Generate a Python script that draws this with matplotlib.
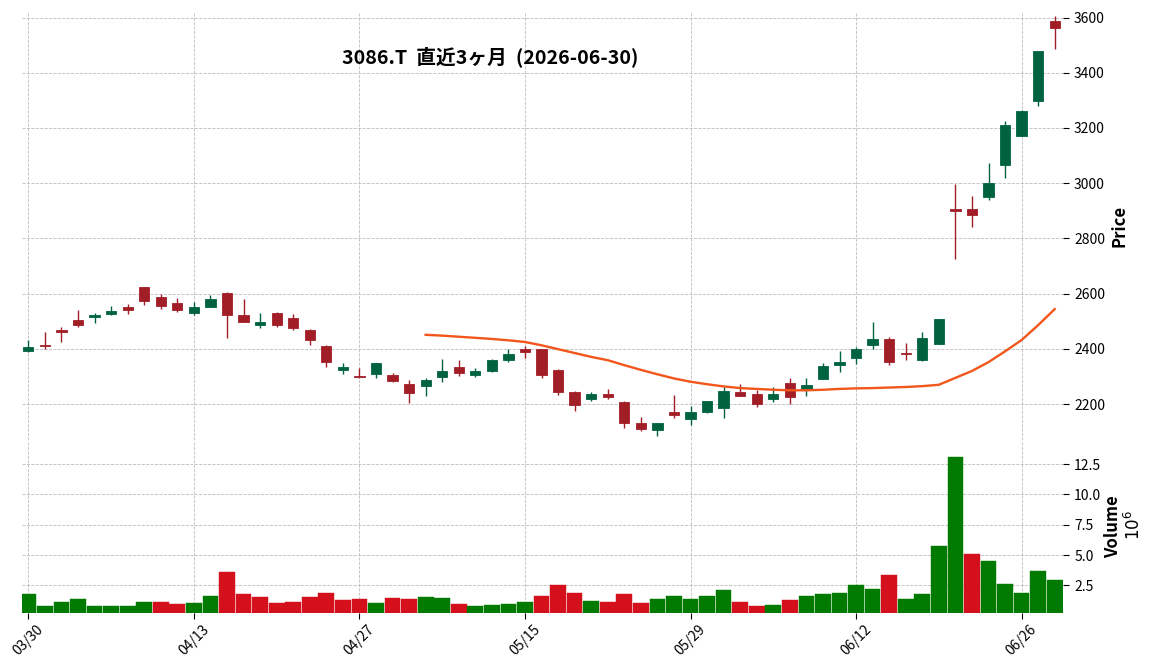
import numpy as np
import pandas as pd
import matplotlib
matplotlib.use('Agg')
import matplotlib.pyplot as plt

plt.rcParams['font.family'] = ['Noto Sans CJK JP', 'DejaVu Sans']

# ---------------- data ----------------
jp_holidays = ['2026-04-29', '2026-05-04', '2026-05-05', '2026-05-06']
dates = pd.bdate_range('2026-03-30', '2026-06-30', freq='C', holidays=jp_holidays)

opens = [2392, 2415, 2467, 2505, 2517, 2527, 2551, 2623, 2587, 2566,
         2531, 2552, 2601, 2523, 2485, 2530, 2512, 2469, 2412, 2324,
         2301, 2310, 2305, 2273, 2267, 2299, 2333, 2305, 2320, 2360,
         2401, 2399, 2323, 2244, 2217, 2237, 2208, 2133, 2106, 2171,
         2145, 2170, 2185, 2244, 2237, 2220, 2276, 2251, 2292, 2342,
         2366, 2413, 2434, 2386, 2360, 2419, 2908, 2906, 2949, 3067,
         3172, 3298, 3586]
highs = [2431, 2462, 2479, 2540, 2531, 2555, 2562, 2625, 2600, 2586,
         2568, 2596, 2607, 2579, 2529, 2533, 2526, 2471, 2414, 2350,
         2329, 2348, 2314, 2286, 2294, 2362, 2358, 2332, 2362, 2398,
         2410, 2401, 2326, 2248, 2243, 2255, 2212, 2154, 2132, 2232,
         2194, 2212, 2262, 2271, 2250, 2261, 2296, 2296, 2350, 2393,
         2407, 2497, 2442, 2422, 2461, 2509, 2998, 2955, 3073, 3224,
         3266, 3477, 3605]
lows = [2389, 2400, 2426, 2481, 2493, 2521, 2525, 2560, 2545, 2535,
        2521, 2550, 2439, 2496, 2475, 2481, 2468, 2415, 2336, 2310,
        2293, 2295, 2279, 2204, 2231, 2281, 2302, 2299, 2318, 2352,
        2368, 2296, 2233, 2175, 2210, 2217, 2114, 2104, 2086, 2150,
        2126, 2168, 2150, 2229, 2189, 2208, 2201, 2229, 2292, 2318,
        2347, 2401, 2342, 2359, 2357, 2417, 2724, 2842, 2940, 3018,
        3172, 3281, 3486]
closes = [2408, 2412, 2460, 2487, 2524, 2537, 2539, 2574, 2556, 2542,
          2551, 2580, 2524, 2499, 2497, 2485, 2474, 2431, 2352, 2333,
          2299, 2348, 2285, 2242, 2287, 2319, 2313, 2319, 2360, 2383,
          2388, 2306, 2245, 2195, 2237, 2227, 2131, 2109, 2130, 2160,
          2173, 2212, 2248, 2231, 2202, 2237, 2224, 2269, 2337, 2352,
          2398, 2437, 2352, 2382, 2441, 2509, 2901, 2885, 3001, 3210,
          3261, 3477, 3562]
volumes_m = [1.76, 0.77, 1.10, 1.35, 0.77, 0.77, 0.77, 1.10, 1.10, 0.94,
             1.02, 1.60, 3.57, 1.76, 1.51, 1.02, 1.10, 1.51, 1.92, 1.27,
             1.35, 1.02, 1.43, 1.35, 1.51, 1.43, 0.94, 0.77, 0.86, 0.94,
             1.10, 1.60, 2.50, 1.92, 1.18, 1.10, 1.76, 1.02, 1.35, 1.60,
             1.35, 1.60, 2.09, 1.10, 0.77, 0.86, 1.27, 1.60, 1.76, 1.84,
             2.50, 2.17, 3.40, 1.35, 1.76, 5.79, 13.10, 5.13, 4.55, 2.66,
             1.92, 3.73, 2.99]
mav_start = 24
mav25 = [2451, 2448, 2444, 2440, 2436, 2431, 2425, 2413, 2399, 2385,
         2371, 2359, 2341, 2324, 2308, 2293, 2281, 2272, 2264, 2258,
         2255, 2252, 2250, 2250, 2252, 2255, 2257, 2258, 2260, 2262,
         2265, 2270, 2295, 2320, 2352, 2391, 2432, 2486, 2544]
price_ticks = [2200, 2400, 2600, 2800, 3000, 3200, 3400, 3600]
volume_ticks = [2.5, 5.0, 7.5, 10.0, 12.5]
tick_every = 10
title = '3086.T  直近3ヶ月  (2026-06-30)'

# ---------------- style ----------------
UP_C, DN_C = '#00633f', '#a21e27'
VUP_C, VDN_C = '#007a00', '#d3101c'
MA_C = '#f2561a'
GRID = dict(linestyle='--', color='#bdbdbd', linewidth=0.6)

n = len(closes)
x = np.arange(n)
o = np.array(opens, float); h = np.array(highs, float)
l = np.array(lows, float); c = np.array(closes, float)
up = c >= o
ccol = np.where(up, UP_C, DN_C)
prev = np.concatenate([[o[0]], c[:-1]])
vcol = np.where(c >= prev, VUP_C, VDN_C)

W, H = 1156, 670
fig = plt.figure(figsize=(W / 100, H / 100), dpi=100)
L, R = 21.7, 1063
ax = fig.add_axes([L / W, 1 - 440 / H, (R - L) / W, (440 - 12) / H])
axv = fig.add_axes([L / W, 1 - 613 / H, (R - L) / W, (613 - 441) / H], sharex=ax)

# candles
ax.vlines(x, l, h, colors=ccol, linewidth=1.0, zorder=3)
ax.bar(x, np.abs(c - o), bottom=np.minimum(o, c), width=0.62, color=ccol,
       edgecolor=ccol, linewidth=0.6, zorder=4)
ax.plot(x[mav_start:], mav25, color=MA_C, linewidth=1.7, zorder=5)

ax.set_xlim(-0.4, n - 0.5)
ax.set_ylim(2070, 3620)
ax.set_yticks(price_ticks)
ax.yaxis.tick_right()
ax.tick_params(axis='y', length=4, width=0.8, labelsize=10, pad=4)
ax.tick_params(axis='x', length=0, labelbottom=False)
ax.set_xticks(x[::tick_every])
ax.grid(True, **GRID)
for s in ax.spines.values():
    s.set_visible(False)
ax.set_ylabel('Price', fontsize=12, fontweight='bold')
ax.yaxis.set_label_position('right')
ax.yaxis.set_label_coords((1111 - L) / (R - L), 0.5)

# volume
axv.bar(x, volumes_m, width=0.95, color=vcol, edgecolor=vcol, linewidth=0.3, zorder=3)
axv.set_ylim(0.3 * min(volumes_m), 1.1 * max(volumes_m))
axv.set_yticks(volume_ticks)
axv.set_yticklabels([f'{v:.1f}' for v in volume_ticks])
axv.yaxis.tick_right()
axv.tick_params(axis='y', length=4, width=0.8, labelsize=10, pad=4)
axv.set_xticks(x[::tick_every])
axv.set_xticklabels([d.strftime('%m/%d') for d in dates[::tick_every]],
                    rotation=45, ha='center', fontsize=10)
axv.tick_params(axis='x', length=4, width=0.8, pad=3)
axv.grid(True, **GRID)
for s in axv.spines.values():
    s.set_visible(False)
axv.set_ylabel('Volume', fontsize=12, fontweight='bold')
axv.yaxis.set_label_position('right')
axv.yaxis.set_label_coords((1104 - L) / (R - L), 0.5)
fig.text(1134 / W, 1 - 525 / H, r'$10^{6}$', rotation=90, fontsize=12,
         ha='center', va='center')

fig.text(490 / W, 1 - 56.5 / H, title, fontsize=14.2, fontweight='bold',
         ha='center', va='center')

fig.savefig('out.png', dpi=100)
